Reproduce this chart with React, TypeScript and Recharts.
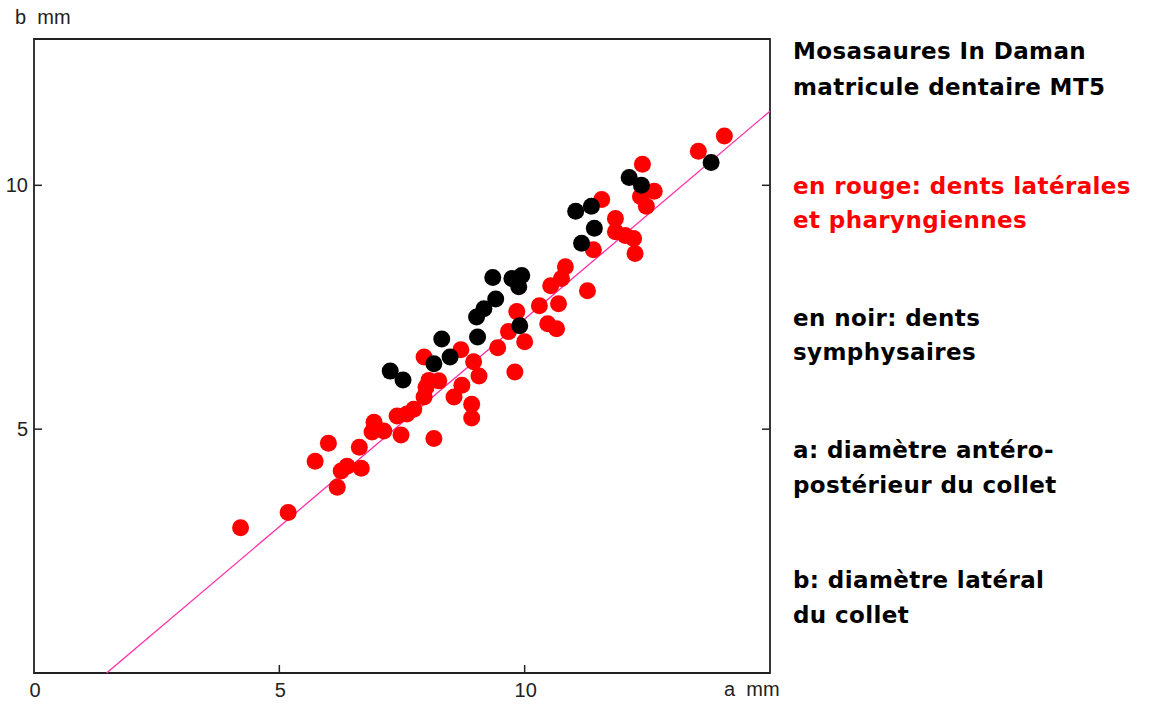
import React from "react";
import { ScatterChart, Scatter, XAxis, YAxis, ReferenceLine, ReferenceArea } from "recharts";

// a (mm) / b (mm) for lateral + pharyngeal teeth (red)
const redA = [
  4.21, 5.18, 5.73, 6.0, 6.63, 6.18, 6.26, 6.38, 6.67, 6.93, 6.89, 7.13, 7.48, 8.15,
  7.4, 7.6, 7.74, 7.95, 7.99, 8.05, 8.25, 7.95, 8.56, 8.92, 8.92, 8.72, 8.7, 8.96,
  9.07, 9.45, 9.8, 9.84, 9.67, 10.0, 10.3, 10.69, 10.47, 10.65, 10.53, 10.83, 10.75,
  11.28, 11.4, 11.57, 11.85, 11.85, 12.05, 12.22, 12.25, 12.4, 12.36, 12.64, 12.48,
  13.54, 14.07,
];
const redB = [
  2.98, 3.29, 4.34, 4.71, 4.63, 3.81, 4.14, 4.24, 4.2, 5.14, 4.94, 4.96, 4.88, 4.81,
  5.27, 5.31, 5.41, 5.66, 5.86, 6.0, 5.99, 6.48, 5.66, 5.51, 5.23, 5.9, 6.63, 6.38,
  6.09, 6.67, 6.17, 7.41, 7.0, 6.79, 7.53, 7.57, 7.16, 7.06, 7.94, 8.33, 8.09,
  7.84, 8.68, 9.71, 9.32, 9.05, 8.97, 8.91, 8.6, 10.43, 9.77, 9.88, 9.57,
  10.7, 11.01,
];

// symphyseal teeth (black)
const blackA = [
  7.26, 7.52, 8.15, 8.48, 8.31, 9.04, 9.02, 9.17, 9.41, 9.35, 9.74, 9.94, 9.88, 9.9,
  11.16, 11.04, 11.36, 11.42, 12.13, 12.38, 13.8,
];
const blackB = [
  6.19, 6.01, 6.34, 6.48, 6.85, 6.89, 7.3, 7.47, 7.67, 8.11, 8.09, 8.15, 7.92, 7.12,
  8.81, 9.47, 9.57, 9.12, 10.16, 10.0, 10.47,
];

// fitted line end points
const fitA = [1.48, 15];
const fitB = [0, 11.52];

const xTicks = [0, 5, 10];
const yTicks = [5, 10];

const red = redA.map((a, i) => ({ a, b: redB[i] }));
const black = blackA.map((a, i) => ({ a, b: blackB[i] }));

const PLOT_LEFT = 34;
const PLOT_RIGHT = 770;
const PLOT_BOTTOM = 673;
const AXIS = "#222";
const FONT = "'Liberation Sans', Arial, sans-serif";

const XTick = (props: any) => {
  const { x, payload } = props;
  return (
    <g>
      {payload.value !== 0 && (
        <line x1={x} x2={x} y1={PLOT_BOTTOM} y2={PLOT_BOTTOM - 8} stroke={AXIS} strokeWidth={1.5} />
      )}
      <text x={x + 1} y={PLOT_BOTTOM + 24} textAnchor="middle" fontSize={20} fontFamily={FONT} fill="#222">
        {payload.value}
      </text>
    </g>
  );
};

const YTick = (props: any) => {
  const { y, payload } = props;
  return (
    <g>
      <line x1={PLOT_LEFT} x2={PLOT_LEFT + 8} y1={y} y2={y} stroke={AXIS} strokeWidth={1.5} />
      <line x1={PLOT_RIGHT} x2={PLOT_RIGHT - 8} y1={y} y2={y} stroke={AXIS} strokeWidth={1.5} />
      <text x={PLOT_LEFT - 6} y={y + 7} textAnchor="end" fontSize={20} fontFamily={FONT} fill="#222">
        {payload.value}
      </text>
    </g>
  );
};

const dot = (color: string) => (p: any) => <circle cx={p.cx} cy={p.cy} r={8.5} fill={color} />;

const noteStyle: React.CSSProperties = {
  position: "absolute",
  left: 793,
  fontFamily: "'DejaVu Sans', sans-serif",
  fontWeight: "bold",
  fontSize: 23,
  letterSpacing: 0.4,
  lineHeight: "30px",
  whiteSpace: "nowrap",
};

export default function App() {
  return (
    <div style={{ position: "absolute", left: 0, top: 0, width: 1152, height: 704, background: "#fff" }}>
      <ScatterChart width={800} height={704} margin={{ top: 39, right: 30, left: 0, bottom: 0 }}>
        <XAxis
          type="number"
          dataKey="a"
          domain={[0, 15]}
          ticks={xTicks}
          interval={0}
          axisLine={false}
          tickLine={false}
          height={31}
          tick={<XTick />}
          allowDataOverflow
        />
        <YAxis
          type="number"
          dataKey="b"
          domain={[0, 13]}
          ticks={yTicks}
          interval={0}
          axisLine={false}
          tickLine={false}
          width={34}
          tick={<YTick />}
          allowDataOverflow
        />
        <ReferenceArea x1={0} x2={15} y1={0} y2={13} fill="none" stroke={AXIS} strokeWidth={1.8} />
        <ReferenceLine
          segment={[
            { x: fitA[0], y: fitB[0] },
            { x: fitA[1], y: fitB[1] },
          ]}
          stroke="#ff2da8"
          strokeWidth={1.3}
        />
        <Scatter data={red} fill="#ff0000" shape={dot("#ff0000")} isAnimationActive={false} />
        <Scatter data={black} fill="#000" shape={dot("#000")} isAnimationActive={false} />
      </ScatterChart>

      <div style={{ position: "absolute", left: 15, top: 6, fontFamily: FONT, fontSize: 20, color: "#222", whiteSpace: "pre" }}>
        {"b  mm"}
      </div>
      <div style={{ position: "absolute", left: 724, top: 678, fontFamily: FONT, fontSize: 20, color: "#222", whiteSpace: "pre" }}>
        {"a  mm"}
      </div>

      <div style={{ ...noteStyle, top: 36, color: "#000" }}>Mosasaures In Daman</div>
      <div style={{ ...noteStyle, top: 72, color: "#000" }}>matricule dentaire MT5</div>
      <div style={{ ...noteStyle, top: 171, color: "#ff0000" }}>en rouge: dents latérales</div>
      <div style={{ ...noteStyle, top: 205, color: "#ff0000" }}>et pharyngiennes</div>
      <div style={{ ...noteStyle, top: 303, color: "#000" }}>en noir: dents</div>
      <div style={{ ...noteStyle, top: 337, color: "#000" }}>symphysaires</div>
      <div style={{ ...noteStyle, top: 435, color: "#000" }}>a: diamètre antéro-</div>
      <div style={{ ...noteStyle, top: 470, color: "#000" }}>postérieur du collet</div>
      <div style={{ ...noteStyle, top: 565, color: "#000" }}>b: diamètre latéral</div>
      <div style={{ ...noteStyle, top: 600, color: "#000" }}>du collet</div>
    </div>
  );
}
